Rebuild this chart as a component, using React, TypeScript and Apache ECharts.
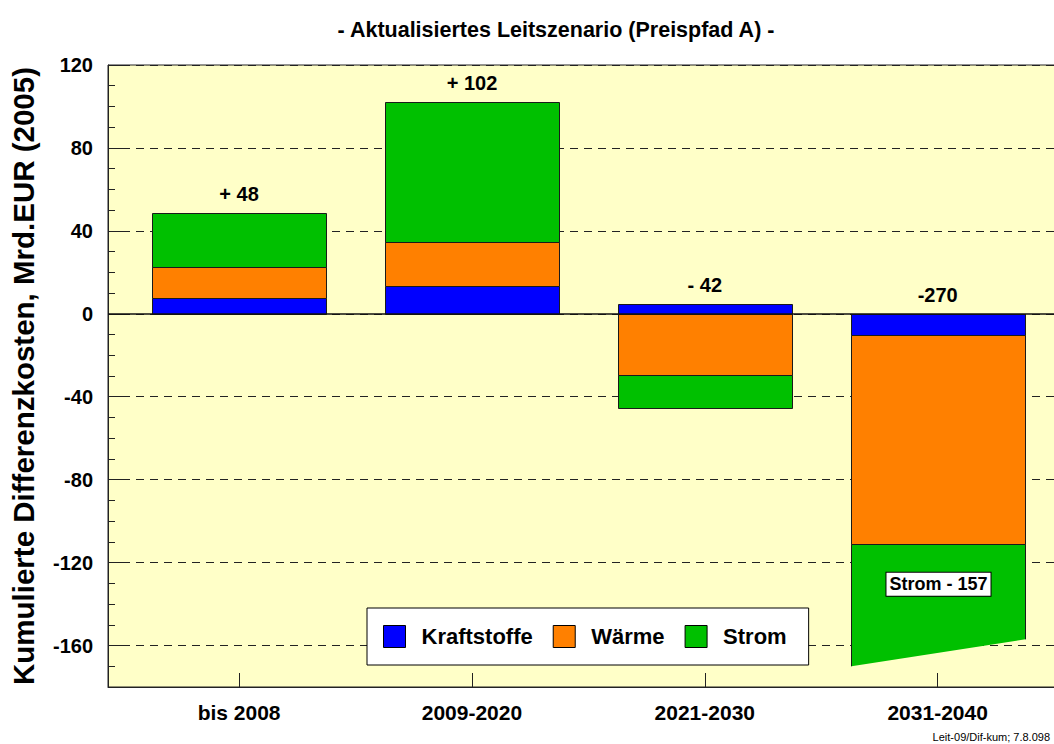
import React, { useEffect, useRef } from "react";
import * as echarts from "echarts";

// ---- data ----
const categories = ["bis 2008", "2009-2020", "2021-2030", "2031-2040"];
const seriesNames = ["Kraftstoffe", "Wärme", "Strom"];
const kraftstoffe = [7.5, 13.6, 4.7, -10.4];
const waerme = [15.0, 20.8, -29.4, -100.6];
const strom = [26.3, 67.8, -15.9, -157];
const brokenIndex = 3; // Strom 2031-2040 is drawn cut off
const brokenCut = [-170, -157]; // value at left / right end of the cut
const totalLabels = ["+ 48", "+ 102", "- 42", "-270"];
const brokenNote = "Strom - 157";
const yTicks = [-160, -120, -80, -40, 0, 40, 80, 120];
const yMin = -180;
const yMax = 120;
const yMinorStep = 10;
const footer = "Leit-09/Dif-kum; 7.8.098";
const titleText = "- Aktualisiertes Leitszenario (Preispfad A) -";
const yName = "Kumulierte Differenzkosten, Mrd.EUR (2005)";

// ---- style ----
const colors = ["#0000FF", "#FF8000", "#00C000"];
const FONT = 'Arial, "Liberation Sans", sans-serif';
const BAR_W = 174;
const EDGE = "#1a1a1a";

export default function App() {
  const ref = useRef<HTMLDivElement>(null);

  useEffect(() => {
    if (!ref.current) return;
    const chart = echarts.init(ref.current, null, { renderer: "svg" });

    const pos = categories.map(() => 0);
    const neg = categories.map(() => 0);
    const stacked = [kraftstoffe, waerme, strom].map((vals, si) =>
      vals.map((v, i) => {
        let s: number;
        let e: number;
        if (v >= 0) {
          s = pos[i];
          e = s + v;
          pos[i] = e;
        } else {
          s = neg[i];
          e = s + v;
          neg[i] = e;
        }
        const broken = si === 2 && i === brokenIndex;
        return [i, s, e, broken ? 1 : 0, brokenCut[0], brokenCut[1]];
      })
    );

    const renderItem = (params: any, api: any) => {
      const i = api.value(0);
      const s = api.value(1);
      const e = api.value(2);
      const broken = api.value(3) === 1;
      const color = api.visual("color");
      const pS = api.coord([i, s]);
      const pE = api.coord([i, e]);
      const x0 = Math.round(pS[0] - BAR_W / 2) + 0.5;
      const x1 = x0 + BAR_W;
      if (!broken) {
        const yA = Math.round(Math.min(pS[1], pE[1])) + 0.5;
        const yB = Math.round(Math.max(pS[1], pE[1])) + 0.5;
        return {
          type: "rect",
          shape: { x: x0, y: yA, width: BAR_W, height: yB - yA },
          style: { fill: color, stroke: EDGE, lineWidth: 1 },
        };
      }
      const yl = api.coord([i, api.value(4)])[1];
      const yr = api.coord([i, api.value(5)])[1];
      const yt = Math.round(pS[1]) + 0.5;
      return {
        type: "group",
        children: [
          {
            type: "polygon",
            shape: { points: [[x0, yt], [x1, yt], [x1, yr], [x0, yl]] },
            style: { fill: color },
          },
          {
            type: "polyline",
            shape: { points: [[x0, yl], [x0, yt], [x1, yt], [x1, yr]] },
            style: { stroke: EDGE, lineWidth: 1, fill: null },
          },
          {
            type: "text",
            x: (x0 + x1) / 2,
            y: yt + (yr - yt) * 0.42,
            style: {
              text: brokenNote,
              align: "center",
              verticalAlign: "middle",
              font: `bold 18px ${FONT}`,
              fill: "#000",
              backgroundColor: "#fff",
              borderColor: "#000",
              borderWidth: 1,
              padding: [3, 3, 2, 3],
            },
          },
        ],
      };
    };

    const barSeries = seriesNames.map((name, si) => ({
      name,
      type: "custom",
      renderItem,
      encode: { x: 0, y: [1, 2] },
      itemStyle: { color: colors[si], borderColor: "#000", borderWidth: 1 },
      data: stacked[si],
      z: 3,
    }));

    const option: any = {
      animation: false,
      textStyle: { fontFamily: FONT },
      grid: {
        left: 108,
        top: 65,
        right: -1,
        bottom: 57,
        containLabel: false,
        outerBoundsMode: "none",
        show: true,
        backgroundColor: "#FFFFC8",
        borderColor: "#222",
        borderWidth: 1,
      },
      graphic: [
        {
          type: "text",
          x: 556,
          y: 30,
          style: {
            text: titleText,
            align: "center",
            verticalAlign: "middle",
            font: `bold 21.5px ${FONT}`,
            fill: "#000",
          },
        },
        {
          type: "text",
          x: 1050,
          y: 737,
          style: {
            text: footer,
            align: "right",
            verticalAlign: "middle",
            font: `11px ${FONT}`,
            fill: "#000",
          },
        },
      ],
      legend: {
        data: seriesNames,
        left: 367,
        top: 608,
        orient: "horizontal",
        icon: "rect",
        itemWidth: 22,
        itemHeight: 22,
        itemGap: 20,
        padding: [17, 22, 17, 16],
        backgroundColor: "#fff",
        borderColor: "#000",
        borderWidth: 1,
        borderRadius: 0,
        itemStyle: { borderColor: "#000", borderWidth: 1 },
        formatter: (n: string) => `{a|${n}}`,
        textStyle: {
          fontFamily: FONT,
          fontWeight: "bold",
          fontSize: 22,
          color: "#000",
          rich: {
            a: {
              fontFamily: FONT,
              fontWeight: "bold",
              fontSize: 22,
              color: "#000",
              padding: [0, 0, 0, 11],
            },
          },
        },
      },
      xAxis: {
        type: "value",
        min: -0.563,
        max: 3.504,
        splitLine: { show: false },
        axisLine: { show: true, onZero: false, lineStyle: { color: "#222", width: 1 } },
        axisTick: {
          show: true,
          inside: true,
          length: 14,
          customValues: categories.map((_, i) => i),
          lineStyle: { color: "#222" },
        },
        axisLabel: {
          customValues: categories.map((_, i) => i),
          formatter: (v: number) => categories[Math.round(v)] ?? "",
          fontFamily: FONT,
          fontWeight: "bold",
          fontSize: 21,
          color: "#000",
          margin: 15,
        },
      },
      yAxis: [
        {
          type: "value",
          min: yMin,
          max: yMax,
          interval: yMinorStep,
          position: "left",
          name: yName,
          nameLocation: "middle",
          nameGap: 70,
          nameRotate: 90,
          nameTextStyle: {
            fontFamily: FONT,
            fontWeight: "bold",
            fontSize: 29.5,
            color: "#000",
          },
          axisLine: { show: true, onZero: false, lineStyle: { color: "#222", width: 1 } },
          axisTick: { show: true, inside: true, length: 7, lineStyle: { color: "#222" } },
          axisLabel: { show: false },
          splitLine: { show: false },
        },
        {
          type: "value",
          min: yMin,
          max: yMax,
          position: "left",
          axisLine: { show: false, onZero: false },
          axisTick: {
            show: true,
            inside: true,
            length: 14,
            customValues: yTicks,
            lineStyle: { color: "#222" },
          },
          axisLabel: {
            customValues: yTicks,
            fontFamily: FONT,
            fontWeight: "bold",
            fontSize: 20,
            color: "#000",
            margin: 15,
          },
          splitLine: {
            show: true,
            lineStyle: { color: "#222", type: [8, 6], width: 1 },
          },
        },
      ],
      series: [
        ...barSeries,
        {
          name: "totals",
          type: "scatter",
          symbolSize: 0,
          z: 5,
          data: categories.map((_, i) => [i, pos[i]]),
          label: {
            show: true,
            position: "top",
            distance: 9,
            formatter: (p: any) => totalLabels[p.dataIndex],
            fontFamily: FONT,
            fontWeight: "bold",
            fontSize: 20,
            color: "#000",
            opacity: 1,
            textBorderWidth: 0,
          },
          markLine: {
            silent: true,
            symbol: "none",
            label: { show: false },
            lineStyle: { color: "#111", type: "solid", width: 1.5 },
            data: [{ yAxis: 0 }],
          },
        },
      ],
    };

    chart.setOption(option);
    return () => chart.dispose();
  }, []);

  return (
    <div
      ref={ref}
      style={{ position: "absolute", left: 0, top: 0, width: 1054, height: 744 }}
    />
  );
}
